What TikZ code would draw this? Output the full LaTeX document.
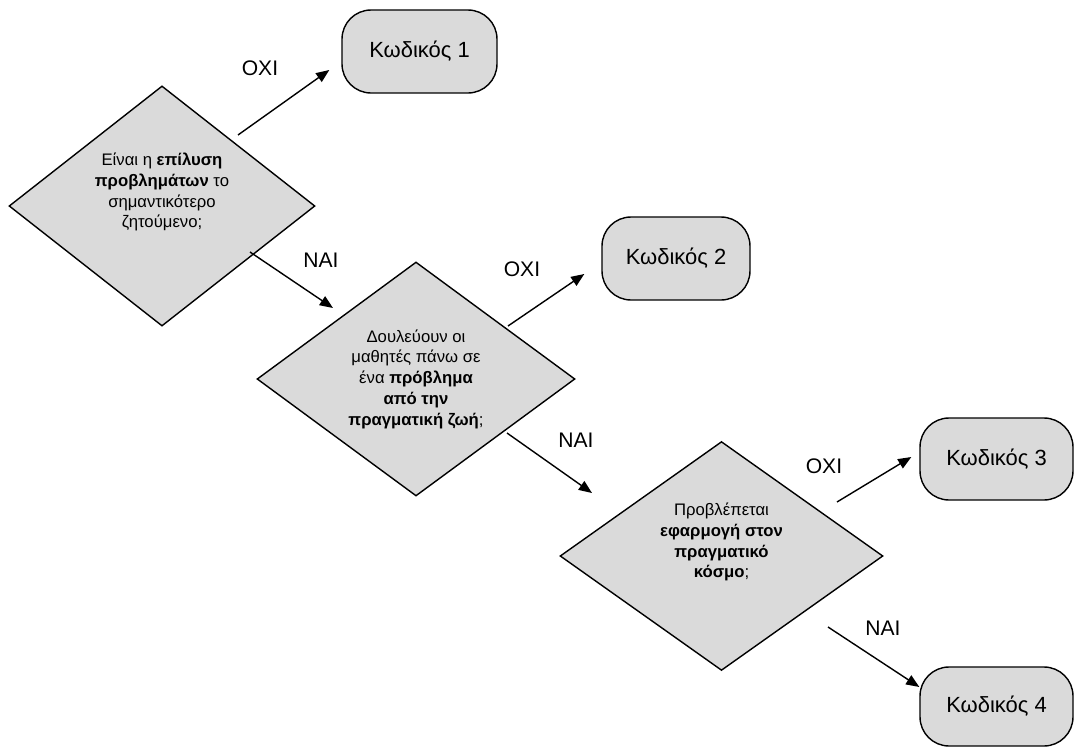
\documentclass[tikz,border=0pt]{standalone}
\usepackage{fontspec}
\setmainfont{Liberation Sans}
\usetikzlibrary{shapes.geometric,arrows.meta}
\definecolor{boxfill}{HTML}{DADADA}
\begin{document}
\begin{tikzpicture}[x=0.02cm,y=-0.02cm,
  question/.style={shape=diamond,draw=black,fill=boxfill,line width=0.8pt,
    inner sep=0pt,align=center,font=\fontsize{9.5}{11.8}\selectfont},
  outcome/.style={draw=black,fill=boxfill,line width=0.8pt,rounded corners=0.58cm,
    inner sep=0pt,font=\fontsize{12.5}{15}\selectfont},
  flow/.style={line width=0.8pt,-{Triangle[length=7.5pt,width=6pt]}},
  answer/.style={inner sep=0pt,font=\fontsize{12}{14}\selectfont}]
\useasboundingbox (0,0) rectangle (1076,747);

% decision diamonds
\node[question,minimum width=6.12cm,minimum height=4.28cm] (d1) at (162,206)
  {Είναι η \textbf{επίλυση}\\ \textbf{προβλημάτων} το\\ σημαντικότερο\\ ζητούμενο;\\[6pt]};
\node[question,minimum width=6.36cm,minimum height=4.44cm] (d2) at (416,379)
  {Δουλεύουν οι\\ μαθητές πάνω σε\\ ένα \textbf{πρόβλημα}\\ \textbf{από την}\\ \textbf{πραγματική ζωή};};
\node[question,minimum width=6.46cm,minimum height=4.54cm] (d3) at (721.5,556)
  {Προβλέπεται\\ \textbf{εφαρμογή στον}\\ \textbf{πραγματικό}\\ \textbf{κόσμο};\\[6pt]};

% outcome codes
\node[outcome,minimum width=3.10cm,minimum height=1.66cm] (k1) at (419.5,51.5) {Κωδικός 1};
\node[outcome,minimum width=2.96cm,minimum height=1.66cm] (k2) at (676,258.5) {Κωδικός 2};
\node[outcome,minimum width=3.06cm,minimum height=1.64cm] (k3) at (996.5,459) {Κωδικός 3};
\node[outcome,minimum width=3.06cm,minimum height=1.58cm] (k4) at (996.5,706.5) {Κωδικός 4};

% connectors
\draw[flow] ([shift={(76,-71)}]d1.center) -- ([shift={(-12,18.5)}]k1.west);
\draw[flow] ([shift={(88,46)}]d1.center) -- ([shift={(-83,-71)}]d2.center);
\draw[flow] ([shift={(92,-53)}]d2.center) -- ([shift={(-17,15.5)}]k2.west);
\draw[flow] ([shift={(91,54)}]d2.center) -- ([shift={(-129.5,-63)}]d3.center);
\draw[flow] ([shift={(115.5,-54)}]d3.center) -- ([shift={(-8,-2)}]k3.west);
\draw[flow] ([shift={(106.5,71)}]d3.center) -- ([shift={(0,-19.5)}]k4.west);

% branch labels
\node[answer] (no1) at (260,68) {ΟΧΙ};
\node[answer] (yes1) at (321,260) {ΝΑΙ};
\node[answer] (no2) at (522,269) {ΟΧΙ};
\node[answer] (yes2) at (576,440) {ΝΑΙ};
\node[answer] (no3) at (824,466) {ΟΧΙ};
\node[answer] (yes3) at (883,628) {ΝΑΙ};
\end{tikzpicture}
\end{document}
